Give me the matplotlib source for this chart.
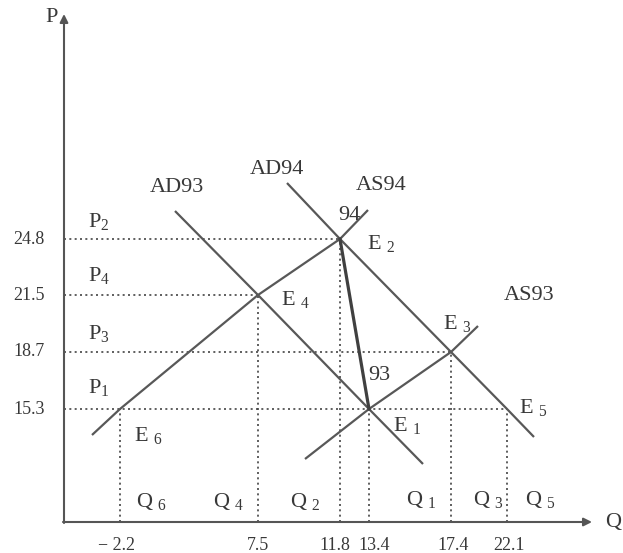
import matplotlib
matplotlib.use('Agg')
import matplotlib.pyplot as plt

plt.rcParams['font.family'] = ['Liberation Serif', 'DejaVu Serif']
plt.rcParams['mathtext.fontset'] = 'custom'
plt.rcParams['mathtext.rm'] = 'Liberation Serif'
plt.rcParams['mathtext.it'] = 'Liberation Serif:italic'

# ---- data (sketch units of the diagram) ----
q_names = ['6', '4', '2', '1', '3', '5']
q_pos = [56, 194, 276, 305, 387, 443]
q_labels = ['\u2212 2.2', '7.5', '11.8', '13.4', '17.4', '22.1']

p_names = ['2', '4', '3', '1']
p_pos = [283, 227, 170, 113]
p_labels = ['24.8', '21.5', '18.7', '15.3']

# equilibria
eq_names = ['1', '2', '3', '4', '5', '6']
eq_q = [305, 276, 387, 194, 443, 56]
eq_p = [113, 283, 170, 227, 113, 113]

# curves as polylines
ad93_x = [111, 194, 305, 359]
ad93_y = [311, 227, 113, 58]
ad94_x = [223, 276, 387, 443, 470]
ad94_y = [339, 283, 170, 113, 85]
as94_x = [28, 56, 194, 276, 304]
as94_y = [87, 113, 227, 283, 312]
as93_x = [241, 305, 387, 414]
as93_y = [63, 113, 170, 196]
path_x = [276, 305]
path_y = [283, 113]

fig = plt.figure(figsize=(6.23, 5.53), dpi=100)
ax = fig.add_axes([0, 0, 1, 1])
ax.set_xlim(-64, 559)
ax.set_ylim(-31, 522)
ax.axis('off')

txt = '#383838'
lc = '#585858'
dc = '#444444'

# axes
ax.annotate('', xy=(0, 508), xytext=(0, -1),
            arrowprops=dict(arrowstyle='-|>', color='#555555', lw=1.5,
                            mutation_scale=12, shrinkA=0, shrinkB=0))
ax.annotate('', xy=(528, 0), xytext=(-1, 0),
            arrowprops=dict(arrowstyle='-|>', color='#555555', lw=1.5,
                            mutation_scale=12, shrinkA=0, shrinkB=0))
ax.text(-12, 505, 'P', fontsize=16, color=txt, ha='center', va='center')
ax.text(549, 0, 'Q', fontsize=16, color=txt, ha='center', va='center')

# dotted guide lines
h_targets = [eq_q[1], eq_q[3], eq_q[2], eq_q[4]]
for y, xe in zip(p_pos, h_targets):
    ax.plot([0, xe], [y, y], linestyle=(0, (1.2, 2.0)), color=dc, lw=1.2)
v_tops = [eq_p[5], eq_p[3], eq_p[1], eq_p[0], eq_p[2], eq_p[4]]
for x, yt in zip(q_pos, v_tops):
    ax.plot([x, x], [0, yt], linestyle=(0, (1.2, 2.0)), color=dc, lw=1.2)

# curves
for xs, ys in [(ad93_x, ad93_y), (ad94_x, ad94_y), (as94_x, as94_y), (as93_x, as93_y)]:
    ax.plot(xs, ys, color=lc, lw=1.6, solid_capstyle='butt')
ax.plot(path_x, path_y, color='#404040', lw=2.3)

# curve labels
fs = 16
ax.text(113, 334, 'AD93', fontsize=fs, color=txt, ha='center', va='center')
ax.text(213, 352, 'AD94', fontsize=fs, color=txt, ha='center', va='center')
ax.text(317, 336, 'AS94', fontsize=fs, color=txt, ha='center', va='center')
ax.text(465, 226, 'AS93', fontsize=fs, color=txt, ha='center', va='center')
ax.text(285, 307, '94', fontsize=fs, color=txt, ha='center', va='center')
ax.text(315, 146, '93', fontsize=fs, color=txt, ha='center', va='center')

# equilibrium labels
e_lab_x = [343, 317, 393, 231, 469, 84]
e_lab_y = [96, 278, 199, 222, 114, 86]
for n, x, y in zip(eq_names, e_lab_x, e_lab_y):
    ax.text(x, y, 'E ${}_{%s}$' % n, fontsize=fs, color=txt, ha='center', va='center')

# P labels
p_lab_y = [301, 246, 189, 134]
for n, y in zip(p_names, p_lab_y):
    ax.text(35, y, 'P${}_{%s}$' % n, fontsize=fs, color=txt, ha='center', va='center')

# Q labels
q_lab_x = [88, 165, 241, 357, 424, 476]
q_lab_y = [20, 20, 20, 22, 22, 22]
for n, x, y in zip(q_names, q_lab_x, q_lab_y):
    ax.text(x, y, 'Q ${}_{%s}$' % n, fontsize=fs, color=txt, ha='center', va='center')

# tick value labels
for y, lab in zip(p_pos, p_labels):
    ax.text(-35, y, lab, fontsize=13, color=txt, ha='center', va='center')
q_lab_shift = [-4, 0, -5, 5, 2, 2]
for x, lab, dx in zip(q_pos, q_labels, q_lab_shift):
    ax.text(x + dx, -23, lab, fontsize=13, color=txt, ha='center', va='center')

fig.savefig('out.png', dpi=100)
